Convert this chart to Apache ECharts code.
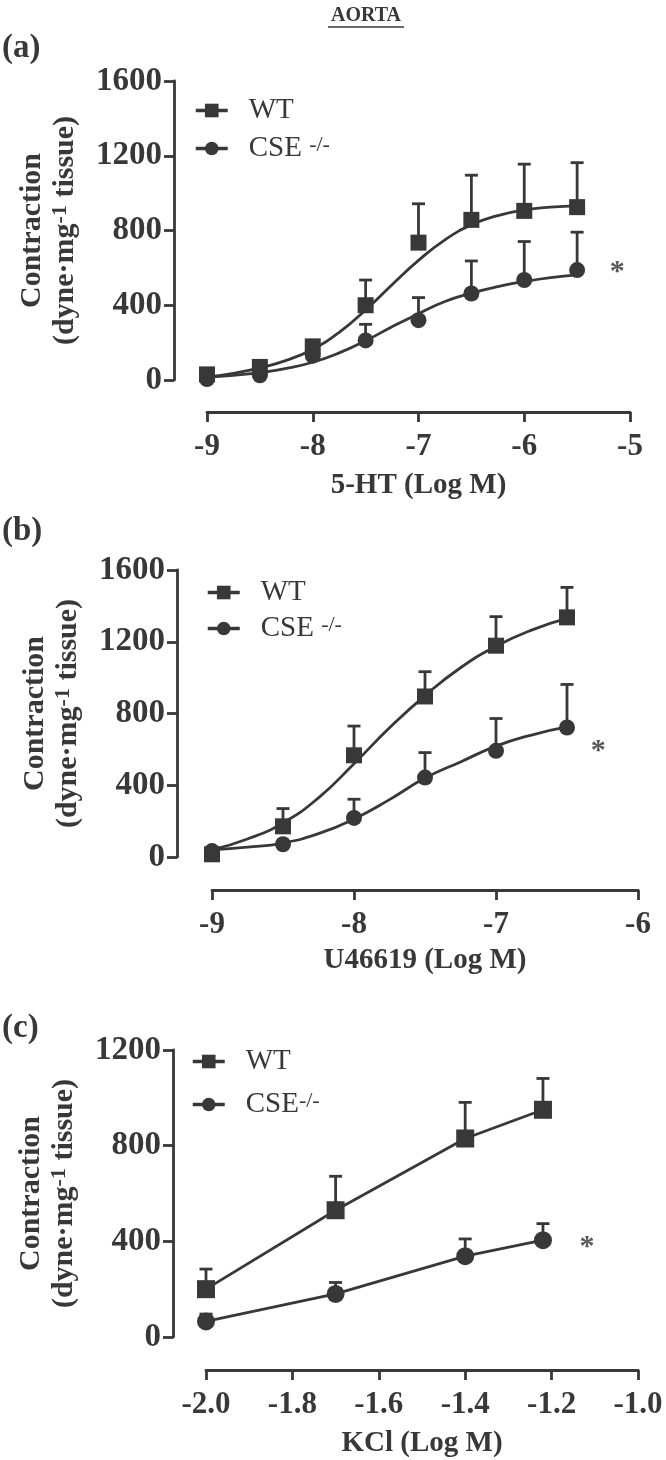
<!DOCTYPE html>
<html><head><meta charset="utf-8">
<script src="https://cdn.jsdelivr.net/npm/echarts@6/dist/echarts.min.js"></script>
<style>html,body{margin:0;padding:0;background:#fff}#c{width:666px;height:1460px}</style>
</head><body><div id="c"></div>
<script>
// ---------- DATA ----------
// Panel (a): 5-HT
const aDose = [-9, -8.5, -8, -7.5, -7, -6.5, -6, -5.5];
const aWT = [30, 70, 180, 400, 735, 857, 905, 925];
const aWTTop = [35, 80, 190, 535, 943, 1096, 1155, 1163];
const aCSE = [5, 25, 130, 212, 320, 463, 535, 588];
const aCSETop = [15, 35, 140, 298, 441, 637, 741, 791];
const aCurveX = [-9, -8.75, -8.5, -8.25, -8, -7.75, -7.5, -7.25, -7, -6.75, -6.5, -6.25, -6, -5.75, -5.5];
const aWTCurve = [15, 35, 65, 105, 165, 255, 375, 510, 640, 750, 830, 880, 910, 925, 932];
const aCSECurve = [15, 25, 40, 62, 95, 145, 210, 285, 355, 420, 465, 500, 527, 548, 562];
const aStar = [-5.12, 575];

// Panel (b): U46619
const bDose = [-9, -8.5, -8, -7.5, -7, -6.5];
const bWT = [15, 171, 567, 895, 1178, 1336];
const bWTTop = [25, 270, 730, 1033, 1340, 1503];
const bCSE = [33, 71, 218, 443, 592, 722];
const bCSETop = [40, 80, 322, 582, 772, 962];
const bCurveX = [-9, -8.75, -8.5, -8.25, -8, -7.75, -7.5, -7.25, -7, -6.75, -6.5];
const bWTCurve = [40, 100, 190, 330, 520, 720, 900, 1055, 1175, 1265, 1330];
const bCSECurve = [40, 55, 78, 130, 212, 320, 440, 530, 618, 680, 725];
const bStar = [-6.28, 590];

// Panel (c): KCl
const cDose = [-2.0, -1.7, -1.4, -1.22];
const cWT = [200, 530, 830, 950];
const cWTTop = [284, 672, 981, 1081];
const cCSE = [65, 180, 338, 405];
const cCSETop = [96, 228, 410, 474];
const cStar = [-1.118, 375];

// Axis ticks / labels
const axA = {min: -9, max: -5, interval: 1, yMax: 1600, yInt: 400, title: '5-HT (Log M)'};
const axB = {min: -9, max: -6, interval: 1, yMax: 1600, yInt: 400, title: 'U46619 (Log M)'};
const axC = {min: -2, max: -1, interval: 0.2, yMax: 1200, yInt: 400, title: 'KCl (Log M)'};
const seriesNames = ['WT', 'CSE'];
const yTitle = 'Contraction\n(dyne·mg{sup|-1} tissue)';

// ---------- STYLE ----------
const FONT = 'Liberation Serif';
const INK = '#383838';
const LW = 2.8;

const grids = [
  {left: 207, top: 81, width: 423, height: 299, yOff: 33, xOff: 32, nameGap: 59, ax: axA},
  {left: 212, top: 570, width: 426, height: 287, yOff: 35, xOff: 33, nameGap: 56, ax: axB},
  {left: 206, top: 1050, width: 432, height: 287, yOff: 33, xOff: 33, nameGap: 59, ax: axC}
];

const xAxes = grids.map((g, i) => ({
  type: 'value', gridIndex: i, min: g.ax.min, max: g.ax.max, interval: g.ax.interval,
  offset: g.xOff,
  name: g.ax.title, nameLocation: 'middle', nameGap: g.nameGap,
  nameTextStyle: {fontFamily: FONT, fontWeight: 'bold', fontSize: 29, color: INK},
  axisLine: {show: true, onZero: false, lineStyle: {color: INK, width: LW}},
  axisTick: {show: true, length: 10, lineStyle: {color: INK, width: LW}},
  axisLabel: {fontFamily: FONT, fontWeight: 'bold', fontSize: 31, color: INK, margin: 19,
    formatter: i === 2 ? (v => v.toFixed(1)) : (v => String(v))},
  splitLine: {show: false}
}));

const yAxes = grids.map((g, i) => ({
  type: 'value', gridIndex: i, min: 0, max: g.ax.yMax, interval: g.ax.yInt,
  offset: g.yOff,
  name: yTitle, nameLocation: 'middle', nameGap: 92, nameRotate: 90,
  nameTextStyle: {fontFamily: FONT, fontWeight: 'bold', fontSize: 30, color: INK, lineHeight: 33, align: 'center',
    rich: {sup: {fontFamily: FONT, fontWeight: 'bold', fontSize: 22, color: INK, verticalAlign: 'top', lineHeight: 33}}},
  axisLine: {show: true, onZero: false, lineStyle: {color: INK, width: LW}},
  axisTick: {show: true, length: 10, lineStyle: {color: INK, width: LW}},
  axisLabel: {fontFamily: FONT, fontWeight: 'bold', fontSize: 33, color: INK, margin: 12,
    formatter: v => String(v)},
  splitLine: {show: false}
}));

function errRender(params, api) {
  const x = api.value(0), m = api.value(1), t = api.value(2);
  const p0 = api.coord([x, m]);
  const p1 = api.coord([x, t]);
  const w = 6.5;
  return {type: 'group', children: [
    {type: 'line', shape: {x1: p0[0], y1: p0[1], x2: p1[0], y2: p1[1]}, style: {stroke: INK, lineWidth: LW}},
    {type: 'line', shape: {x1: p1[0] - w, y1: p1[1], x2: p1[0] + w, y2: p1[1]}, style: {stroke: INK, lineWidth: LW}}
  ]};
}
const zip = (xs, ys) => xs.map((x, i) => [x, ys[i]]);
const zip3 = (xs, ys, ts) => xs.map((x, i) => [x, ys[i], ts[i]]);

function errSeries(i, xs, ys, ts) {
  return {type: 'custom', xAxisIndex: i, yAxisIndex: i, renderItem: errRender, z: 1, clip: false,
    encode: {x: 0, y: 1}, data: zip3(xs, ys, ts), silent: true};
}
function curveSeries(i, name, sym, xs, ys) {
  return {type: 'line', name, xAxisIndex: i, yAxisIndex: i, smooth: true, symbol: sym, showSymbol: false,
    symbolSize: 15, lineStyle: {color: INK, width: LW}, itemStyle: {color: INK}, data: zip(xs, ys), z: 2, silent: true};
}
function pointSeries(i, name, sym, xs, ys) {
  return {type: 'scatter', name, xAxisIndex: i, yAxisIndex: i, symbol: sym, symbolSize: 16,
    itemStyle: {color: INK, opacity: 1}, data: zip(xs, ys), z: 3, silent: true};
}
function starSeries(i, pt) {
  return {type: 'scatter', name: 'star' + i, xAxisIndex: i, yAxisIndex: i, symbolSize: 2,
    itemStyle: {color: 'rgba(0,0,0,0)'}, data: [pt], silent: true, z: 5,
    label: {show: true, position: 'inside', formatter: '*', fontFamily: FONT, fontWeight: 'bold', fontSize: 30, color: '#2e2e2e'}};
}

const series = [
  // (a)
  errSeries(0, aDose, aWT, aWTTop), errSeries(0, aDose, aCSE, aCSETop),
  curveSeries(0, 'WT', 'rect', aCurveX, aWTCurve), curveSeries(0, 'CSE', 'circle', aCurveX, aCSECurve),
  pointSeries(0, 'WTpts', 'rect', aDose, aWT), pointSeries(0, 'CSEpts', 'circle', aDose, aCSE),
  starSeries(0, aStar),
  // (b)
  errSeries(1, bDose, bWT, bWTTop), errSeries(1, bDose, bCSE, bCSETop),
  curveSeries(1, 'WT', 'rect', bCurveX, bWTCurve), curveSeries(1, 'CSE', 'circle', bCurveX, bCSECurve),
  pointSeries(1, 'WTpts', 'rect', bDose, bWT), pointSeries(1, 'CSEpts', 'circle', bDose, bCSE),
  starSeries(1, bStar),
  // (c)
  errSeries(2, cDose, cWT, cWTTop), errSeries(2, cDose, cCSE, cCSETop),
  {type: 'line', name: 'WT', xAxisIndex: 2, yAxisIndex: 2, symbol: 'rect', symbolSize: 18,
    lineStyle: {color: INK, width: LW}, itemStyle: {color: INK}, data: zip(cDose, cWT), z: 3, silent: true},
  {type: 'line', name: 'CSE', xAxisIndex: 2, yAxisIndex: 2, symbol: 'circle', symbolSize: 18,
    lineStyle: {color: INK, width: LW}, itemStyle: {color: INK}, data: zip(cDose, cCSE), z: 3, silent: true},
  starSeries(2, cStar)
];

function mkLegend(left, top, gap, sep) {
  return {
    data: seriesNames, orient: 'vertical', left, top, itemGap: gap, itemWidth: 32, itemHeight: 17,
    selectedMode: false,
    lineStyle: {width: 3.5},
    textStyle: {fontFamily: FONT, fontSize: 29, color: INK, lineHeight: 28, padding: [0, 0, 0, 16],
      rich: {sup: {fontFamily: FONT, fontSize: 22, color: INK, verticalAlign: 'top', lineHeight: 26}}},
    formatter: n => n === 'CSE' ? 'CSE' + sep + '{sup|-/-}' : n
  };
}

const option = {
  animation: false,
  backgroundColor: '#fff',
  grid: grids.map(g => ({left: g.left, top: g.top, width: g.width, height: g.height})),
  xAxis: xAxes,
  yAxis: yAxes,
  legend: [mkLegend(189, 91, 9, ' '), mkLegend(201, 573, 7, ' '), mkLegend(186, 1042, 14, '')],
  series,
  graphic: [
    {type: 'text', x: 366, y: 16, style: {text: 'AORTA', font: 'bold 20px "Liberation Serif"', fill: INK, align: 'center', verticalAlign: 'middle'}},
    {type: 'line', shape: {x1: 328, y1: 27, x2: 404, y2: 27}, style: {stroke: INK, lineWidth: 1.5}},
    {type: 'text', x: 2, y: 48, style: {text: '(a)', font: 'bold 33px "Liberation Serif"', fill: INK, verticalAlign: 'middle'}},
    {type: 'text', x: 2, y: 531, style: {text: '(b)', font: 'bold 33px "Liberation Serif"', fill: INK, verticalAlign: 'middle'}},
    {type: 'text', x: 2, y: 1028, style: {text: '(c)', font: 'bold 33px "Liberation Serif"', fill: INK, verticalAlign: 'middle'}}
  ]
};

const chart = echarts.init(document.getElementById('c'), null, {renderer: 'canvas'});
chart.setOption(option);
</script>
</body></html>
